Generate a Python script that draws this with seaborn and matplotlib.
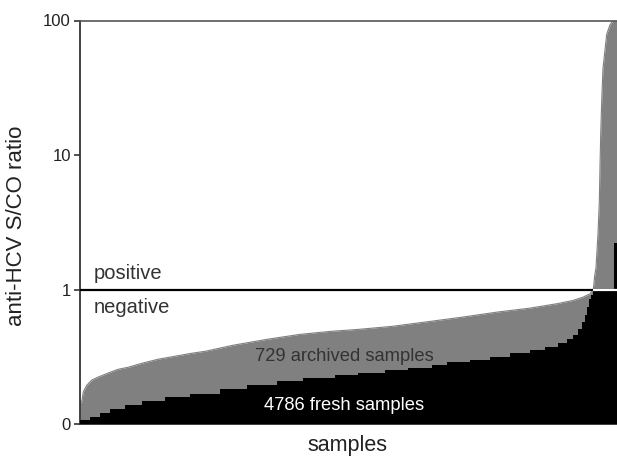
import numpy as np
import matplotlib
matplotlib.use("Agg")
import matplotlib.pyplot as plt
import seaborn as sns
from matplotlib.ticker import FixedLocator, FixedFormatter, NullLocator

# ---- data (x = sample rank as % of each set, y = S/CO ratio) ----
archived_pct = [0.0, 0.37, 0.61, 1.25, 2.18, 3.35, 5.21, 7.08, 8.94, 11.55, 14.53, 17.69,
                20.86, 23.28, 28.49, 34.82, 40.97, 46.55, 51.77, 58.10, 65.18, 71.32,
                77.65, 83.80, 88.83, 91.81, 93.67, 94.97, 95.59, 95.85, 96.09, 96.46,
                96.71, 96.83, 96.96, 97.15, 97.39, 98.08, 98.70, 99.26, 100.0]
archived_ratio = [0.14, 0.15, 0.173, 0.194, 0.212, 0.223, 0.239, 0.255, 0.264, 0.283, 0.303,
                  0.319, 0.336, 0.347, 0.385, 0.426, 0.464, 0.488, 0.505, 0.532, 0.579,
                  0.624, 0.679, 0.727, 0.784, 0.829, 0.877, 0.929, 1.0, 1.27, 1.45, 2.6,
                  4.5, 8.0, 14.0, 25.0, 44.0, 79.0, 93.0, 100.0, 100.0]

fresh_pct = [0.0, 1.86, 3.72, 5.59, 8.38, 11.55, 15.83, 20.48, 26.07, 31.10, 36.69, 41.53,
             47.49, 51.77, 56.80, 61.08, 65.55, 68.34, 72.63, 76.35, 80.07, 83.80, 86.59,
             89.01, 90.69, 91.81, 92.74, 93.48, 94.04, 94.41, 94.79, 95.16, 95.44, 99.45,
             100.0]
fresh_ratio = [0.107, 0.113, 0.121, 0.129, 0.138, 0.148, 0.158, 0.168, 0.182, 0.195, 0.208,
               0.221, 0.231, 0.240, 0.251, 0.263, 0.276, 0.288, 0.301, 0.316, 0.336, 0.354,
               0.375, 0.398, 0.427, 0.457, 0.506, 0.570, 0.643, 0.736, 0.843, 0.917, 0.97,
               2.2, 2.2]

y_ticks = [0.1, 1, 10, 100]
y_tick_labels = ["0", "1", "10", "100"]
cutoff = 1.0

archived_label = "729 archived samples"
fresh_label = "4786 fresh samples"

# ---- style ----
sns.set_style("white")
plt.rcParams["font.family"] = ["Liberation Sans", "DejaVu Sans"]

fig = plt.figure(figsize=(6.17, 4.57), dpi=100)
ax = fig.add_axes([80 / 617, 33 / 457, 537 / 617, 403.5 / 457])

archived = np.array(archived_ratio)
fresh = np.array(fresh_ratio)

ax.set_yscale("log")
ax.set_ylim(0.1, 100)
ax.set_xlim(0, 100)

# archived (grey) area
ax.fill_between(archived_pct, 0.1, archived, color="#808080", linewidth=0, zorder=2)
sns.lineplot(x=archived_pct, y=archived_ratio, color="#808080", linewidth=0.8, ax=ax,
             sort=False, estimator=None, zorder=2)
# fresh (black) stepped area
ax.fill_between(fresh_pct, 0.1, fresh, step="post", color="#000000", linewidth=0, zorder=3)
sns.lineplot(x=fresh_pct, y=fresh_ratio, color="#000000", linewidth=0.6, ax=ax,
             drawstyle="steps-post", sort=False, estimator=None, zorder=3)

# cutoff line: black on white background, white where it crosses the filled area
cross = np.interp(0.0, np.log10(archived[:-1]), np.array(archived_pct[:-1]))
ax.axhline(cutoff, color="#000000", linewidth=1.6, zorder=4)
ax.hlines(cutoff, cross, 100, color="white", linewidth=1.6, zorder=5)

# text annotations
ax.text(2.6, 1.12, "positive", fontsize=14.5, color="#333333", ha="left", va="bottom")
ax.text(2.6, 0.87, "negative", fontsize=14.5, color="#333333", ha="left", va="top")
ax.text(49.2, 0.32, archived_label, fontsize=13.2, color="#333333", ha="center", va="center")
ax.text(49.1, 0.138, fresh_label, fontsize=13.2, color="white", ha="center", va="center")

# axes
ax.yaxis.set_major_locator(FixedLocator(y_ticks))
ax.yaxis.set_major_formatter(FixedFormatter(y_tick_labels))
ax.yaxis.set_minor_locator(NullLocator())
ax.xaxis.set_major_locator(NullLocator())
ax.xaxis.set_minor_locator(NullLocator())
ax.tick_params(axis="y", which="major", left=True, direction="out", length=4.5, width=1.2,
               color="#333333", pad=2, labelsize=12, labelcolor="#222222")

for side in ["left", "bottom"]:
    ax.spines[side].set_color("#333333")
    ax.spines[side].set_linewidth(1.3)
ax.spines["top"].set_color("#555555")
ax.spines["top"].set_linewidth(1.2)
ax.spines["right"].set_visible(False)

ax.set_ylabel("anti-HCV S/CO ratio", fontsize=16, color="#222222")
ax.yaxis.set_label_coords(-0.099, 0.49)
ax.set_xlabel("samples", fontsize=15.5, color="#222222")
ax.xaxis.set_label_coords(0.498, -0.028)

fig.savefig("out.png", dpi=100)
